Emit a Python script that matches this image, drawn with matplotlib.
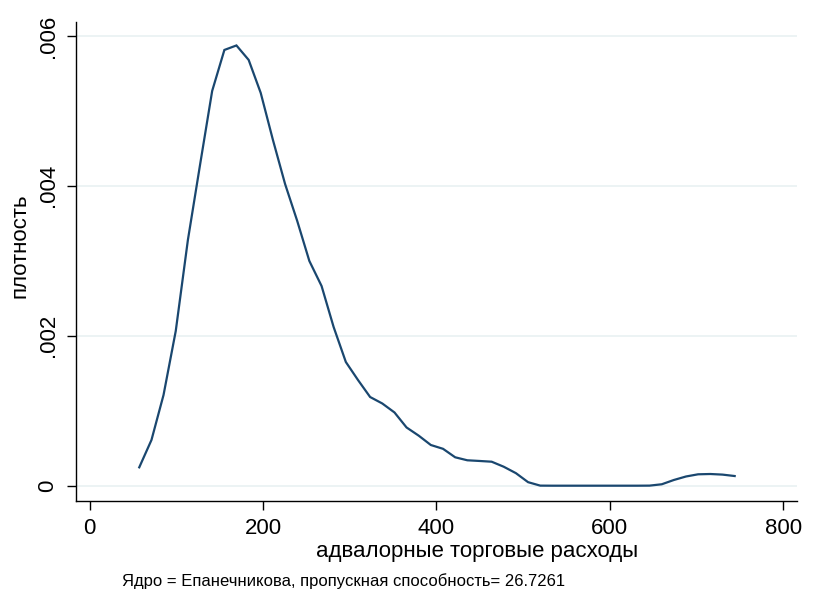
import matplotlib
matplotlib.use("Agg")
import matplotlib.pyplot as plt

plt.rcParams['font.family'] = ['Liberation Sans', 'DejaVu Sans']

# kernel density estimate
x_vals = [57.2, 71.3, 85.2, 99.3, 113.3, 127.3, 141.3, 155.4, 169.3, 183.4,
          197.3, 211.4, 225.4, 239.4, 253.4, 267.5, 281.4, 295.5, 309.5, 323.5,
          337.5, 351.6, 365.5, 379.6, 393.5, 407.6, 421.6, 435.6, 449.6, 463.7,
          477.6, 491.7, 505.7, 519.7, 533.7, 547.7, 561.7, 575.8, 589.7, 603.8,
          617.8, 631.8, 645.8, 659.9, 673.8, 687.9, 701.8, 715.9, 729.9, 744.0]
dens = [0.245, 0.610, 1.210, 2.064, 3.278, 4.279, 5.266, 5.813, 5.873, 5.680,
        5.240, 4.612, 4.025, 3.532, 2.998, 2.664, 2.117, 1.650, 1.410, 1.183,
        1.097, 0.977, 0.777, 0.667, 0.543, 0.492, 0.379, 0.339, 0.330, 0.320,
        0.253, 0.167, 0.047, 0.001, 0.0, 0.0, 0.0, 0.0, 0.0, 0.0,
        0.0, 0.0, 0.001, 0.019, 0.076, 0.123, 0.152, 0.156, 0.148, 0.129]
dens = [d * 1e-3 for d in dens]

x_ticks = [0, 200, 400, 600, 800]
y_ticks = [0, 0.002, 0.004, 0.006]
y_ticklabels = ['0', '.002', '.004', '.006']

fig = plt.figure(figsize=(8.16, 5.91), dpi=100)
ax = fig.add_axes([0.0931, 0.1523, 0.8832, 0.811])

ax.plot(x_vals, dens, color='#1a476f', lw=1.6, solid_joinstyle='miter')

ax.set_xlim(-15.8, 815.5)
ax.set_ylim(-0.000204, 0.00619)
ax.set_xticks(x_ticks)
ax.set_xticklabels([str(t) for t in x_ticks])
ax.set_yticks(y_ticks)
ax.set_yticklabels(y_ticklabels, rotation=90, va='center')

ax.grid(axis='y', color='#eaf2f3', lw=1.3)
ax.set_axisbelow(True)
for s in ['top', 'right']:
    ax.spines[s].set_visible(False)
for s in ['left', 'bottom']:
    ax.spines[s].set_linewidth(1.0)
ax.tick_params(direction='out', length=6.5, width=1.0, labelsize=16, pad=6)

fig.text(0.585, 0.066, 'адвалорные торговые расходы', fontsize=16,
         ha='center', va='center')
fig.text(0.0245, 0.585, 'плотность', fontsize=16, rotation=90,
         ha='center', va='center')
fig.text(0.149, 0.017, 'Ядро = Епанечникова, пропускная способность= 26.7261',
         fontsize=12, ha='left', va='center')

fig.savefig('out.png', dpi=100)
